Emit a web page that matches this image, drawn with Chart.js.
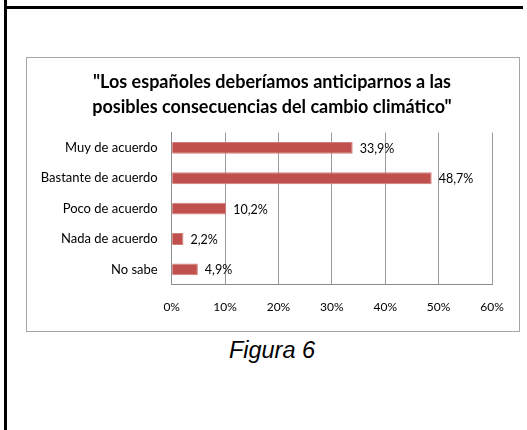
<!DOCTYPE html>
<html>
<head>
<meta charset="utf-8">
<script src="https://cdn.jsdelivr.net/npm/chart.js@4"></script>
<style>
  html, body { margin: 0; padding: 0; background: #fff; }
  body { width: 527px; height: 430px; position: relative; overflow: hidden; }
  .rule-v { position: absolute; left: 4px; top: 0; width: 3px; height: 430px; background: #000; }
  .rule-h { position: absolute; left: 4px; top: 6px; width: 519px; height: 3px; background: #000; }
  .frame {
    position: absolute; left: 26px; top: 57px; width: 494px; height: 275px;
    box-sizing: border-box; border: 1px solid #a6a6a6;
  }
  .frame canvas { display: block; }
  .caption {
    position: absolute; left: 0; width: 544px; top: 337px; text-align: center;
    font: italic 23.5px "Liberation Sans", Arial, sans-serif; color: #000;
  }
</style>
</head>
<body>
<div class="rule-v"></div>
<div class="rule-h"></div>
<div class="frame"><canvas id="chart" width="492" height="273"></canvas></div>
<div class="caption">Figura 6</div>
<script>
// ── Data ───────────────────────────────────────────────────────────────────
const titleLines = [
  '"Los españoles deberíamos anticiparnos a las',
  'posibles consecuencias del cambio climático"',
];
const categories = ['Muy de acuerdo', 'Bastante de acuerdo', 'Poco de acuerdo', 'Nada de acuerdo', 'No sabe'];
const values = [33.9, 48.7, 10.2, 2.2, 4.9];
const axisMin = 0;
const axisMax = 60;
const axisStep = 10;

const fmt = (v) => v.toFixed(1).replace('.', ',') + '%';

// ── Title, centred on the whole frame (not the padded layout box) ─────────
const frameTitle = {
  id: 'frameTitle',
  afterDraw(chart) {
    const { ctx, width } = chart;
    ctx.save();
    ctx.font = 'bold 18px Lato, sans-serif';
    ctx.fillStyle = '#000';
    ctx.textAlign = 'center';
    ctx.textBaseline = 'middle';
    titleLines.forEach((line, i) => {
      ctx.fillText(line, width / 2 - 1, 24 + i * 24.7);
    });
    ctx.restore();
  },
};

// ── Value labels next to the bars ──────────────────────────────────────────
const barLabels = {
  id: 'barLabels',
  afterDatasetsDraw(chart) {
    const { ctx } = chart;
    const meta = chart.getDatasetMeta(0);
    ctx.save();
    ctx.font = '12.5px Lato, sans-serif';
    ctx.fillStyle = '#000';
    ctx.textAlign = 'left';
    ctx.textBaseline = 'middle';
    meta.data.forEach((bar, i) => {
      ctx.fillText(fmt(values[i]), bar.x + 7, bar.y + 1);
    });
    ctx.restore();
  },
};

new Chart(document.getElementById('chart'), {
  type: 'bar',
  data: {
    labels: categories,
    datasets: [{
      data: values,
      backgroundColor: '#c0504d',
      borderColor: '#d27e7b',
      borderWidth: 1,
      borderSkipped: 'start',
      categoryPercentage: 1,
      barPercentage: 0.39,
    }],
  },
  options: {
    indexAxis: 'y',
    responsive: false,
    animation: false,
    layout: { padding: { left: 0, right: 27, top: 74.7, bottom: 0 } },
    plugins: {
      legend: { display: false },
      tooltip: { enabled: false },
      title: { display: false },
    },
    scales: {
      x: {
        min: axisMin,
        max: axisMax,
        ticks: {
          stepSize: axisStep,
          color: '#000',
          padding: 15,
          font: { family: 'Lato', size: 12 },
          callback: (v) => v + '%',
        },
        grid: { color: '#9a9a9a', drawTicks: false },
        border: { color: '#8c8c8c' },
        afterFit: (s) => { s.height = 46.5; },
      },
      y: {
        ticks: {
          color: '#000',
          padding: 14,
          font: { family: 'Lato', size: 13 },
        },
        grid: { display: false, drawTicks: false },
        border: { color: '#8c8c8c' },
        afterFit: (s) => { s.width = 144.7; },
      },
    },
  },
  plugins: [barLabels, frameTitle],
});
</script>
</body>
</html>
